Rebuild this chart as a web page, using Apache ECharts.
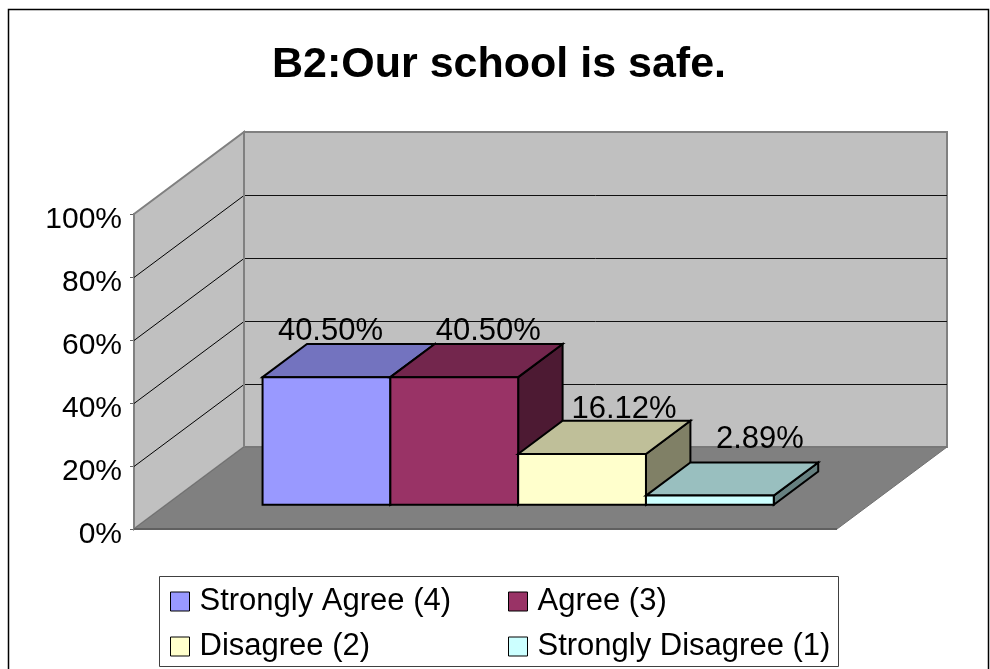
<!DOCTYPE html>
<html>
<head>
<meta charset="utf-8">
<style>html,body{margin:0;padding:0;background:#fff}#c{width:990px;height:669px}</style>
<script src="https://cdn.jsdelivr.net/npm/echarts@6/dist/echarts.min.js"></script>
</head>
<body>
<div id="c"></div>
<script>
const chartTitle = 'B2:Our school is safe.';
const categories = ['B2'];
const seriesNames = ['Strongly Agree (4)', 'Agree (3)', 'Disagree (2)', 'Strongly Disagree (1)'];
const seriesValues = [40.5, 40.5, 16.12, 2.89];
const axisTicks = [0, 20, 40, 60, 80, 100];

const FONT = '"Liberation Sans", Arial, sans-serif';
const DEPTH_X = 110, DEPTH_Y = 82;      // projected floor depth
const GAP_FRAC = 96 / 703, BAR_FRAC = 127.8 / 703;
const Z_FRONT = 0.296, Z_BACK = 0.70;
const palette = [
  { front: '#9999FF', top: '#7373BF', side: '#4D4D80' },
  { front: '#993366', top: '#73264D', side: '#4D1A33' },
  { front: '#FFFFCC', top: '#BFBF99', side: '#808066' },
  { front: '#CCFFFF', top: '#99BFBF', side: '#668080' }
];
const labelNudge = [[-18, -13], [12, -13], [20, -11], [28, -23]];

function poly(points, fill, stroke, lw) {
  return { type: 'polygon', shape: { points }, style: { fill, stroke, lineWidth: lw } };
}
function seg(a, b, stroke, lw) {
  return { type: 'line', shape: { x1: a[0], y1: a[1], x2: b[0], y2: b[1] }, style: { stroke, lineWidth: lw } };
}

function renderWalls(params, api) {
  const cs = params.coordSys;
  const x0 = cs.x, x1 = cs.x + cs.width;
  const y0 = api.coord([0, 0])[1], yTop = api.coord([0, axisTicks[axisTicks.length - 1]])[1];
  const dx = DEPTH_X, dy = DEPTH_Y;
  const kids = [
    poly([[x0 + dx, yTop - dy], [x1 + dx, yTop - dy], [x1 + dx, y0 - dy], [x0 + dx, y0 - dy]], '#C0C0C0', '#808080', 2),
    poly([[x0, yTop], [x0 + dx, yTop - dy], [x0 + dx, y0 - dy], [x0, y0]], '#C0C0C0', '#808080', 2),
    poly([[x0, y0], [x0 + dx, y0 - dy], [x1 + dx, y0 - dy], [x1, y0]], '#808080', '#707070', 1)
  ];
  axisTicks.forEach(t => {
    if (t === 0 || t === 100) return;
    const y = api.coord([0, t])[1];
    kids.push(seg([x0, y + 0.5], [x0 + dx, y - dy + 0.5], '#000', 1));
    kids.push(seg([x0 + dx, y - dy + 0.5], [x1 + dx, y - dy + 0.5], '#111', 1));
  });
  kids.push(seg([x0 + dx, y0 - dy], [x0 + dx, yTop - dy], '#808080', 2));
  kids.push(seg([x0, y0], [x1, y0], '#606060', 2));
  return { type: 'group', children: kids };
}

function makeBar(i) {
  const c = palette[i];
  return {
    name: seriesNames[i],
    type: 'custom',
    coordinateSystem: 'cartesian2d',
    itemStyle: { color: c.front, borderColor: '#000', borderWidth: 1 },
    z: 5 + i,
    encode: { x: 0, y: 1 },
    data: [[0, seriesValues[i]]],
    renderItem(params, api) {
      const cs = params.coordSys;
      const val = api.value(1);
      const w = cs.width * BAR_FRAC;
      const xa = cs.x + cs.width * GAP_FRAC + i * w;
      const xb = xa + w;
      const yBase = api.coord([0, 0])[1];
      const yVal = api.coord([0, val])[1];
      const P = (x, y, z) => [x + DEPTH_X * z, y - DEPTH_Y * z];
      const fa = P(xa, yVal, Z_FRONT), fb = P(xb, yVal, Z_FRONT);
      const ba = P(xa, yVal, Z_BACK), bb = P(xb, yVal, Z_BACK);
      const ga = P(xa, yBase, Z_FRONT), gb = P(xb, yBase, Z_FRONT), gbb = P(xb, yBase, Z_BACK);
      const cx = (fa[0] + fb[0]) / 2;
      return {
        type: 'group',
        children: [
          poly([fb, bb, gbb, gb], c.side, '#000', 2),
          poly([fa, ba, bb, fb], c.top, '#000', 2),
          poly([fa, fb, gb, ga], c.front, '#000', 2),
          {
            type: 'text', z2: 50,
            style: {
              x: cx + 22 + labelNudge[i][0], y: ba[1] + labelNudge[i][1],
              text: val.toFixed(2) + '%',
              fill: '#000', font: '31px ' + FONT, align: 'center', verticalAlign: 'middle'
            }
          }
        ]
      };
    }
  };
}

function legendFor(names, left, top) {
  return {
    show: true, orient: 'vertical', left, top, height: 200, padding: 0,
    itemWidth: 19, itemHeight: 19, itemGap: 14,
    selectedMode: false,
    icon: 'rect',
    itemStyle: { borderColor: '#000', borderWidth: 1 },
    textStyle: { fontFamily: FONT, fontSize: 31, color: '#000', padding: [0, 0, 0, 5] },
    data: names
  };
}

const chart = echarts.init(document.getElementById('c'), null, { renderer: 'canvas' });
chart.setOption({
  animation: false,
  backgroundColor: '#fff',
  title: {
    text: chartTitle, left: 272, top: 44, padding: 0,
    textStyle: { fontFamily: FONT, fontSize: 43, fontWeight: 'bold', color: '#000' }
  },
  grid: { left: 134, top: 214, width: 703, height: 315, containLabel: false },
  xAxis: { type: 'category', data: categories, show: false },
  yAxis: {
    type: 'value', min: 0, max: 100, interval: 20,
    axisLine: { show: true, lineStyle: { color: '#606060', width: 2 } },
    axisTick: { show: true, length: 4, lineStyle: { color: '#606060' } },
    splitLine: { show: false },
    axisLabel: { formatter: '{value}%', fontFamily: FONT, fontSize: 30, color: '#000', margin: 12, verticalAlign: 'top', lineHeight: 11 }
  },
  legend: [
    legendFor([seriesNames[0], seriesNames[2]], 170, 586),
    legendFor([seriesNames[1], seriesNames[3]], 508, 586)
  ],
  graphic: [
    { type: 'rect', silent: true, z: -10, shape: { x: 8.5, y: 9.5, width: 980, height: 680 },
      style: { fill: '#fff', stroke: '#000', lineWidth: 1.5 } },
    { type: 'rect', silent: true, z: -9, shape: { x: 159.5, y: 576.5, width: 679, height: 90 },
      style: { fill: '#fff', stroke: '#404040', lineWidth: 1 } }
  ],
  series: [
    { name: '_walls', type: 'custom', z: 1, encode: { x: 0, y: 1 }, data: [[0, 0]], renderItem: renderWalls, silent: true }
  ].concat(seriesNames.map((_, i) => makeBar(i)))
});
</script>
</body>
</html>
